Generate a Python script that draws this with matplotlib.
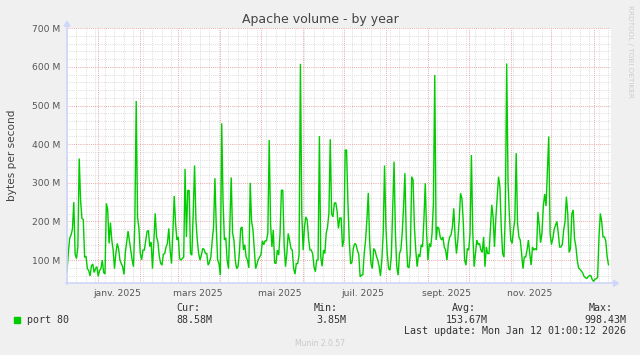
import matplotlib
matplotlib.use("Agg")
import matplotlib.pyplot as plt
from matplotlib.lines import Line2D
from matplotlib.patches import Polygon, Rectangle
from datetime import datetime, timedelta

# ---------------- data (daily averages, in M bytes/s) ----------------
start_day = datetime(2024, 12, 9)
vol_dec24_feb25 = [70, 120, 157, 165, 180, 250, 115, 104, 134, 363,
                   255, 208, 205, 107, 110, 78, 73, 59, 85, 90,
                   68, 78, 83, 58, 73, 78, 100, 68, 64, 247,
                   230, 143, 197, 152, 126, 78, 117, 143, 130, 100,
                   91, 83, 63, 120, 147, 175, 150, 125, 100, 83,
                   200, 512, 210, 182, 117, 101, 126, 126, 150, 174,
                   177, 135, 147, 78, 152, 221]
vol_feb25_apr25 = [160, 147, 110, 92, 87, 115, 117, 134, 143, 182,
                   126, 91, 170, 266, 195, 152, 160, 104, 100, 104,
                   108, 336, 160, 281, 280, 117, 113, 221, 345, 204,
                   152, 117, 100, 113, 130, 128, 117, 117, 87, 95,
                   108, 150, 186, 312, 186, 100, 91, 61, 454, 250,
                   152, 158, 100, 78, 190, 314, 170, 152, 100, 78,
                   83, 117, 182, 186, 126, 140, 108, 100, 80, 300]
vol_apr25_jul25 = [200, 180, 130, 78, 90, 102, 108, 115, 150, 140,
                   150, 150, 170, 411, 195, 134, 178, 93, 91, 126,
                   113, 169, 281, 281, 140, 83, 117, 169, 152, 130,
                   126, 78, 64, 91, 91, 113, 608, 221, 126, 186,
                   212, 204, 156, 126, 126, 117, 83, 70, 100, 100,
                   421, 108, 84, 126, 117, 169, 186, 221, 413, 219,
                   212, 247, 249, 228, 182, 209, 209, 134, 152, 385]
vol_jul25_sep25 = [385, 250, 150, 90, 95, 130, 143, 140, 125, 115,
                   57, 61, 62, 117, 152, 204, 274, 150, 91, 78,
                   130, 125, 110, 100, 84, 59, 100, 169, 345, 186,
                   117, 78, 74, 110, 230, 355, 169, 83, 61, 117,
                   126, 169, 238, 325, 160, 83, 80, 117, 316, 308,
                   186, 126, 83, 115, 108, 140, 134, 204, 299, 169,
                   100, 143, 134, 169, 247, 579, 152, 186, 182, 160]
vol_sep25_nov25 = [152, 160, 134, 126, 100, 143, 160, 165, 186, 234,
                   160, 117, 152, 204, 273, 260, 200, 100, 87, 130,
                   126, 169, 372, 173, 83, 117, 152, 140, 143, 126,
                   120, 160, 83, 134, 117, 117, 178, 243, 212, 134,
                   208, 264, 316, 290, 186, 117, 108, 221, 609, 300,
                   215, 152, 143, 178, 204, 377, 195, 160, 152, 117,
                   78, 108, 108, 126, 152, 117, 87, 134, 126, 130]
vol_nov25_jan26 = [126, 225, 190, 145, 170, 240, 271, 240, 333, 420,
                   169, 140, 156, 180, 190, 200, 170, 134, 134, 140,
                   178, 200, 264, 220, 120, 130, 220, 230, 155, 135,
                   100, 80, 76, 72, 67, 58, 55, 52, 57, 60,
                   60, 50, 45, 50, 52, 55, 160, 221, 200, 160,
                   160, 150, 110, 88]

y_ticks = [100, 200, 300, 400, 500, 600, 700]
y_tick_labels = ["100 M", "200 M", "300 M", "400 M", "500 M", "600 M", "700 M"]
x_label_dates = [datetime(2025, 1, 15), datetime(2025, 3, 15), datetime(2025, 5, 15),
                 datetime(2025, 7, 15), datetime(2025, 9, 15), datetime(2025, 11, 15)]
x_labels = ["janv. 2025", "mars 2025", "mai 2025", "juil. 2025", "sept. 2025", "nov. 2025"]

title = "Apache volume - by year"
y_label = "bytes per second"
series_name = "port 80"
stat_cur, stat_min, stat_avg, stat_max = "88.58M", "3.85M", "153.67M", "998.43M"
last_update = "Last update: Mon Jan 12 01:00:12 2026"

values = (vol_dec24_feb25 + vol_feb25_apr25 + vol_apr25_jul25 +
          vol_jul25_sep25 + vol_sep25_nov25 + vol_nov25_jan26)
dates = [start_day + timedelta(days=i) for i in range(len(values))]

# ---------------- figure ----------------
W, H = 640, 355
BG = "#F0F0F0"
fig = plt.figure(figsize=(W / 100, H / 100), dpi=100, facecolor=BG)

def fx(px):
    return px / W

def fy(py):
    return 1 - py / H

left, right, top, bottom = 67, 610.5, 28.3, 283.3
ax = fig.add_axes([fx(left), fy(bottom), fx(right - left), (bottom - top) / H])
ax.set_facecolor("white")
x0 = start_day
x1 = datetime(2026, 1, 13, 12)
ax.set_xlim(x0, x1)
ax.set_ylim(40, 700)

grid_minor = "#DCDCDC"
grid_major = "#E8A8A8"
dot = (0, (1, 1.2))
# horizontal grid
for v in range(60, 700, 20):
    if v % 100:
        ax.axhline(v, color=grid_minor, lw=0.7, ls=dot, zorder=1)
for v in y_ticks:
    ax.axhline(v, color=grid_major, lw=0.7, ls=dot, zorder=2)
# vertical grid: weekly (Mondays) minor, monthly major
d = x0
while d < x1:
    if d.weekday() == 0 and d.day != 1:
        ax.axvline(d, color=grid_minor, lw=0.7, ls=dot, zorder=1)
    d += timedelta(days=1)
m = datetime(2025, 1, 1)
while m < x1:
    ax.axvline(m, color=grid_major, lw=0.7, ls=dot, zorder=2)
    m = datetime(m.year + (m.month // 12), m.month % 12 + 1, 1)

ax.plot(dates, values, color="#00CC00", lw=1.0, zorder=5, solid_joinstyle="miter")

for s in ax.spines.values():
    s.set_visible(False)
ax.set_yticks(y_ticks)
ax.set_yticklabels(y_tick_labels)
ax.set_xticks(x_label_dates)
ax.set_xticklabels(x_labels)
ax.tick_params(axis="both", length=0, colors="#555555", labelsize=6.6)
ax.tick_params(axis="y", pad=5)
ax.tick_params(axis="x", pad=4)

# axes lines + arrows
axis_col = "#CFD6F8"
fig.add_artist(Line2D([fx(left), fx(left)], [fy(bottom + 1), fy(top - 3)], color=axis_col, lw=1.2))
fig.add_artist(Line2D([fx(left - 1), fx(right + 3)], [fy(bottom), fy(bottom)], color=axis_col, lw=1.2))
fig.add_artist(Polygon([[fx(left - 3), fy(top - 2)], [fx(left + 3), fy(top - 2)], [fx(left), fy(top - 7)]],
                       closed=True, color=axis_col, transform=fig.transFigure))
fig.add_artist(Polygon([[fx(right + 3), fy(bottom - 3)], [fx(right + 3), fy(bottom + 3)], [fx(right + 8), fy(bottom)]],
                       closed=True, color=axis_col, transform=fig.transFigure))

# texts
fig.text(fx(320), fy(19), title, ha="center", va="center", fontsize=9, color="#444444")
fig.text(fx(12), fy(155.5), y_label, ha="center", va="center", rotation=90, fontsize=7.6, color="#444444")
fig.text(fx(630), fy(5), "RRDTOOL / TOBI OETIKER", ha="center", va="top", rotation=270,
         fontsize=5.2, color="#CCCCCC")

mono = dict(family="DejaVu Sans Mono", fontsize=7.2, color="#333333", va="center")
fig.add_artist(Rectangle((fx(14), fy(323)), fx(6), 6 / H, color="#00CC00", transform=fig.transFigure))
fig.text(fx(27), fy(320), series_name, ha="left", **mono)
fig.text(fx(176), fy(308), "Cur:", ha="left", **mono)
fig.text(fx(176), fy(320), stat_cur, ha="left", **mono)
fig.text(fx(338), fy(308), "Min:", ha="right", **mono)
fig.text(fx(346), fy(320), stat_min, ha="right", **mono)
fig.text(fx(476), fy(308), "Avg:", ha="right", **mono)
fig.text(fx(488), fy(320), stat_avg, ha="right", **mono)
fig.text(fx(613), fy(308), "Max:", ha="right", **mono)
fig.text(fx(626), fy(320), stat_max, ha="right", **mono)
fig.text(fx(626), fy(331), last_update, ha="right", **mono)
fig.text(fx(320), fy(344), "Munin 2.0.57", ha="center", va="center", fontsize=5.5, color="#C8C8C8")

fig.savefig("out.png", dpi=100, facecolor=BG)
